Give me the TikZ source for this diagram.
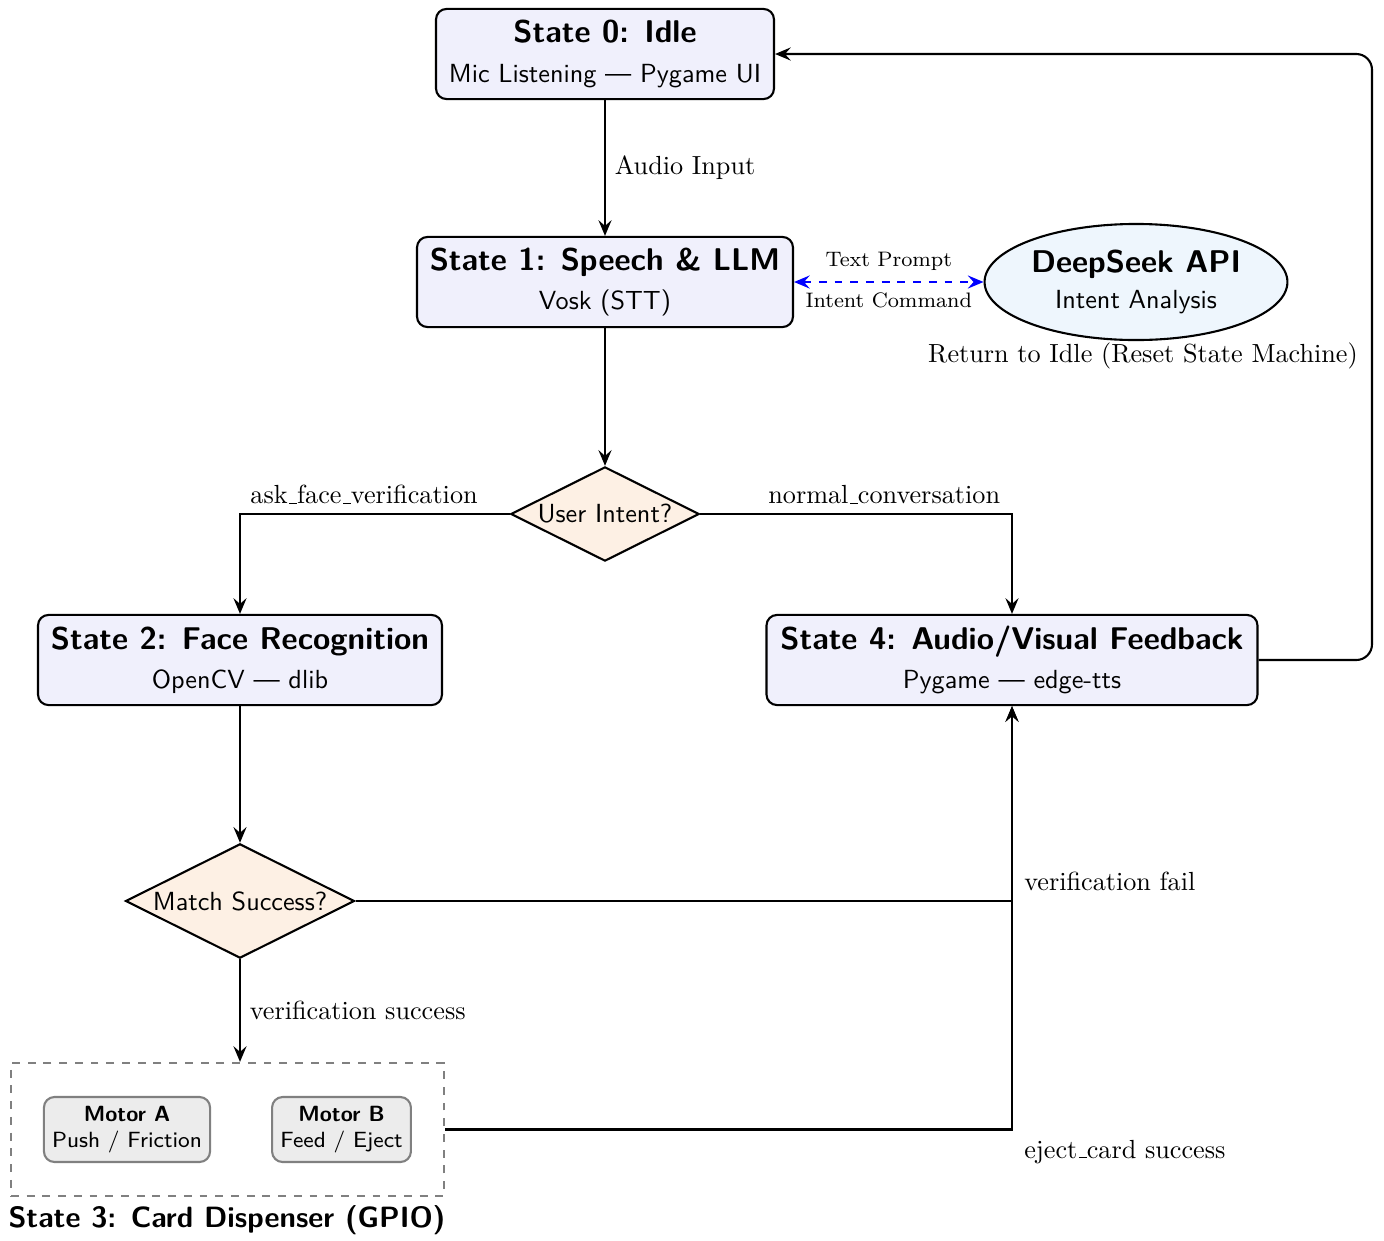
\documentclass[tikz,border=0pt]{standalone}
\usetikzlibrary{shapes.geometric,arrows.meta,positioning}
\definecolor{statefill}{RGB}{240,240,252}
\definecolor{apifill}{RGB}{238,246,253}
\definecolor{decfill}{RGB}{253,240,228}
\newcommand\myus{\leavevmode\kern.06em\vbox{\hrule width.3em}}
\begin{document}
\begin{tikzpicture}[x=0.3817pt,y=-0.3817pt,
  statebox/.style={draw, thick, rounded corners=4pt, fill=statefill, font=\sffamily, align=center, minimum height=34.4pt, inner sep=2pt},
  decbox/.style={draw, thick, diamond, aspect=2, fill=decfill, font=\sffamily, inner sep=1pt},
  apibox/.style={draw, thick, ellipse, fill=apifill, font=\sffamily, align=center, minimum width=115.6pt, minimum height=44.3pt, inner sep=0pt},
  motorbox/.style={draw=gray, fill=gray!15, rounded corners=4pt, font=\sffamily\fontsize{8.4}{10}\selectfont, align=center, minimum height=24.8pt, inner sep=1pt, thick},
  groupbox/.style={draw=gray, dashed, thick, minimum width=165.3pt, minimum height=50.8pt},
  tip/.style={Stealth[length=6pt,width=5pt,inset=2.2pt]},
  arr/.style={-{Stealth[length=6pt,width=5pt,inset=2.2pt]}, thick},
  lbl/.style={font=\rmfamily}
]
\useasboundingbox (0,0) rectangle (1384,1241);

% nodes
\node[statebox, minimum width=129pt] (s0) at (605,54) {{\large\bfseries State 0: Idle}\\[3pt] Mic Listening --- Pygame UI};
\node[statebox, minimum width=143.5pt] (s1) at (605,282) {{\large\bfseries State 1: Speech \& LLM}\\[3pt] Vosk (STT)};
\node[apibox] (api) at (1136,282) {{\large\bfseries DeepSeek API}\\[2pt] Intent Analysis};
\node[decbox, minimum width=71.8pt, minimum height=35.9pt] (d1) at (605,514) {User Intent?};
\node[statebox, minimum width=154.2pt] (s2) at (240,660) {{\large\bfseries State 2: Face Recognition}\\[3pt] OpenCV --- dlib};
\node[statebox, minimum width=187.4pt] (s4) at (1012,660) {{\large\bfseries State 4: Audio/Visual Feedback}\\[3pt] Pygame --- edge-tts};
\node[decbox, minimum width=87.4pt, minimum height=43.5pt] (d2) at (240,901) {Match Success?};
\node[groupbox] (s3) at (227.5,1129.5) {};
\node[motorbox, minimum width=63.4pt] (ma) at (127,1129.5) {\textbf{Motor A}\\Push / Friction};
\node[motorbox, minimum width=53pt] (mb) at (341.5,1129.5) {\textbf{Motor B}\\Feed / Eject};
\node[font=\sffamily\bfseries\fontsize{11.2}{13}\selectfont, inner sep=0pt] (s3lbl) at (227,1220) {State 3: Card Dispenser (GPIO)};

\coordinate (rtop) at (1372,54);
\coordinate (fail) at (1012,901);

% connectors
\draw[arr] (s0) -- node[lbl, right, pos=0.5] {Audio Input} (s1);
\draw[dashed, blue, thick, {Stealth[length=6pt,width=5pt,inset=2.2pt]}-{Stealth[length=6pt,width=5pt,inset=2.2pt]}] (s1.east) -- node[text=black, font=\rmfamily\footnotesize, above=0.5pt] {Text Prompt} node[text=black, font=\rmfamily\footnotesize, below=0.5pt] {Intent Command} (api.west);
\draw[arr] (s1) -- (d1);
\draw[arr] (d1.west) -| node[lbl, above, pos=0.27] {ask\myus face\myus verification} (s2.north);
\draw[arr] (d1.east) -| node[lbl, above, pos=0.295] {normal\myus conversation} (s4.north);
\draw[arr] (s2) -- (d2);
\draw[arr] (d2.south) -- node[lbl, right, pos=0.5] {verification success} (d2.south |- s3.north);
\draw[arr] (d2.east) -- (fail) -- (s4.south);
\node[lbl, anchor=west] (faillbl) at (1015,881) {verification fail};
\draw[arr] (s3.east) -| (s4.south);
\node[lbl, anchor=west] (ejlbl) at (1015,1152) {eject\myus card success};
\draw[arr, rounded corners=6pt] (s4.east) -| (rtop) -- (s0.east);
\node[lbl] (retlbl) at (1143,356) {Return to Idle (Reset State Machine)};
\end{tikzpicture}
\end{document}
